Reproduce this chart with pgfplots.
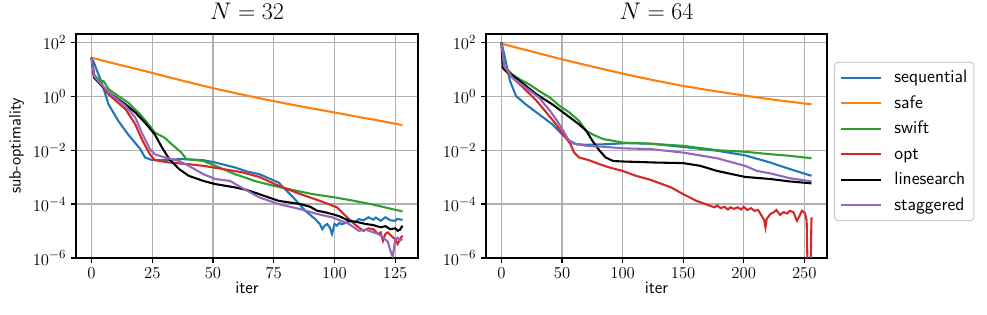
\documentclass[border=0pt]{standalone}
\usepackage{pgfplots}
\pgfplotsset{compat=1.18}
\definecolor{cblue}{HTML}{1F77B4}
\definecolor{corange}{HTML}{FF7F0E}
\definecolor{cgreen}{HTML}{2CA02C}
\definecolor{cred}{HTML}{D62728}
\definecolor{cpurple}{HTML}{9467BD}
\definecolor{cgrid}{HTML}{B0B0B0}
\definecolor{clegend}{HTML}{CCCCCC}
\begin{document}
\begin{tikzpicture}
\useasboundingbox (0pt,0pt) rectangle (710.64pt,226.8pt);
\begin{axis}[
  scale only axis, anchor=south west, at={(54.72pt,41.04pt)},
  width=246.24pt, height=161.28pt,
  ymode=log, ymin=1e-6, ymax=204,
  ytick={1e-6,1e-4,1e-2,1,1e2},
  grid=major,
  major grid style={cgrid, line width=0.9pt},
  axis line style={line width=0.9pt},
  major tick style={black, line width=0.9pt},
  major tick length=3.5pt,
  tick align=outside,
  xtick pos=bottom, ytick pos=left,
  tick label style={font=\fontsize{13}{15}\selectfont},
  xlabel style={font=\sffamily\fontsize{12.5}{14}\selectfont, at={(axis description cs:0.5,-0.1326)}, anchor=center},
  ylabel style={font=\sffamily\fontsize{12}{14}\selectfont, at={(axis description cs:-0.174,0.5)}, anchor=center},
  title style={font=\fontsize{16}{19}\selectfont, at={(axis description cs:0.5,1.0625)}, anchor=center},
  xmin=-6.4, xmax=134.4, xtick={0,25,50,75,100,125},
  title={$N=32$}, xlabel={iter}, ylabel={sub-optimality}]
% sequential
\addplot[cblue, line width=1.5pt] coordinates {(0,26.9)(1,17.8)(2,10)(4,3.55)(7,0.501)(11,0.123)(15,0.0389)(20,0.0112)(22,5.37e-3)(25,4.27e-3)(29,4.27e-3)(37,4.68e-3)(46,4.27e-3)(51,3.47e-3)(59,2.29e-3)(64,1.62e-3)(69,1.29e-3)(77,6.31e-4)(83,1.78e-4)(88,5.62e-5)(92,2.82e-5)(94,1.82e-5)(95,1.17e-5)(96,1.58e-5)(97,1.82e-5)(98,1.41e-5)(99,7.76e-6)(100,1.82e-5)(101,1.58e-5)(102,2.0e-5)(103,1.78e-5)(105,2.09e-5)(107,2.40e-5)(108,2.0e-5)(110,2.75e-5)(112,2.51e-5)(114,3.24e-5)(116,2.63e-5)(117,3.16e-5)(119,2.40e-5)(121,3.24e-5)(123,2.51e-5)(125,2.40e-5)(126,2.82e-5)(128,2.57e-5)};
% safe
\addplot[corange, line width=1.5pt] coordinates {(0,26.9)(10,15.8)(20,9.55)(30,5.62)(40,3.31)(50,2.0)(60,1.26)(70,0.813)(80,0.537)(90,0.363)(100,0.251)(110,0.170)(120,0.117)(128,0.0851)};
% swift
\addplot[cgreen, line width=1.5pt] coordinates {(0,26.9)(1,6.46)(2,5.01)(4,3.72)(5,3.6)(7,1.82)(11,1.02)(15,0.589)(20,0.214)(24,0.0794)(26,0.0447)(30,0.0295)(33,0.0166)(37,8.13e-3)(39,4.68e-3)(46,3.98e-3)(51,2.63e-3)(59,1.29e-3)(64,9.12e-4)(67,7.24e-4)(75,4.79e-4)(83,3.31e-4)(91,2.34e-4)(100,1.78e-4)(108,1.32e-4)(116,9.55e-5)(124,6.46e-5)(128,5.37e-5)};
% opt
\addplot[cred, line width=1.5pt] coordinates {(0,26.9)(1,5.62)(7,1.17)(14,0.331)(18,0.0912)(21,0.0224)(24,7.08e-3)(26,4.27e-3)(32,3.47e-3)(40,3.02e-3)(46,2.63e-3)(54,2.0e-3)(62,1.51e-3)(69,1.02e-3)(77,4.79e-4)(86,2.34e-4)(94,1.32e-4)(101,7.59e-5)(106,2.75e-5)(109,1.58e-5)(112,1.02e-5)(114,1.26e-5)(116,1.17e-5)(118,7.76e-6)(119,8.91e-6)(120,4.37e-6)(121,7.94e-6)(122,8.91e-6)(124,5.89e-6)(125,5.01e-6)(126,3.31e-6)(127,5.01e-6)(128,6.76e-6)};
% linesearch
\addplot[black, line width=1.5pt] coordinates {(0,26.9)(1,4.90)(7,1.38)(14,0.501)(18,0.251)(22,0.105)(26,0.0389)(29,0.0126)(32,4.68e-3)(36,2.0e-3)(40,1.12e-3)(46,7.24e-4)(51,5.50e-4)(59,4.17e-4)(64,3.31e-4)(69,2.34e-4)(77,1.32e-4)(86,1.0e-4)(90,7.94e-5)(93,5.62e-5)(96,5.01e-5)(99,4.27e-5)(102,3.55e-5)(106,2.40e-5)(109,2.19e-5)(113,1.82e-5)(116,1.66e-5)(119,1.38e-5)(121,1.51e-5)(123,1.17e-5)(125,1.26e-5)(126,1.02e-5)(127,1.12e-5)(128,1.58e-5)};
% staggered
\addplot[cpurple, line width=1.5pt] coordinates {(0,26.9)(1,5.62)(7,1.38)(14,0.437)(18,0.162)(21,0.0389)(24,0.0110)(26,7.08e-3)(30,5.37e-3)(36,3.98e-3)(40,2.63e-3)(46,1.29e-3)(51,8.51e-4)(57,7.24e-4)(62,3.98e-4)(69,1.78e-4)(77,1.0e-4)(86,6.46e-5)(93,4.27e-5)(99,3.24e-5)(106,1.82e-5)(110,1.02e-5)(113,1.12e-5)(116,8.91e-6)(118,7.94e-6)(120,5.89e-6)(122,3.98e-6)(123,1.91e-6)(124,1.10e-6)(125,4.68e-6)(126,5.62e-6)(127,4.47e-6)(128,5.01e-6)};
\end{axis}
\begin{axis}[
  scale only axis, anchor=south west, at={(349.92pt,41.04pt)},
  width=245.52pt, height=161.28pt,
  ymode=log, ymin=1e-6, ymax=204,
  ytick={1e-6,1e-4,1e-2,1,1e2},
  grid=major,
  major grid style={cgrid, line width=0.9pt},
  axis line style={line width=0.9pt},
  major tick style={black, line width=0.9pt},
  major tick length=3.5pt,
  tick align=outside,
  xtick pos=bottom, ytick pos=left,
  tick label style={font=\fontsize{13}{15}\selectfont},
  xlabel style={font=\sffamily\fontsize{12.5}{14}\selectfont, at={(axis description cs:0.5,-0.1326)}, anchor=center},
  title style={font=\fontsize{16}{19}\selectfont, at={(axis description cs:0.5,1.0625)}, anchor=center},
  xmin=-12.8, xmax=268.8, xtick={0,50,100,150,200,250},
  title={$N=64$}, xlabel={iter},
  legend cell align=left,
  legend style={at={(1.0205,0.876)}, anchor=north west, draw=clegend, line width=0.8pt,
    rounded corners=2.5pt, fill=white,
    font=\sffamily\fontsize{13}{15}\selectfont,
    row sep=4.4pt, inner xsep=3.8pt, inner ysep=4pt,
    nodes={text height=9.5pt, text depth=2.5pt, inner sep=1pt}},
  legend image code/.code={\draw[#1, line width=1.5pt, rounded corners=0pt] (0pt,0pt) -- (28.8pt,0pt); \path (36.8pt,0pt);}]
% sequential
\addplot[cblue, line width=1.5pt] coordinates {(0,97.7)(2,39.8)(4,15.5)(7,3.72)(12,1.02)(20,0.501)(31,0.214)(42,0.0912)(50,0.0389)(56,0.0224)(62,0.0166)(70,0.0158)(86,0.0166)(103,0.0182)(123,0.0174)(150,0.0132)(178,9.55e-3)(201,6.46e-3)(222,3.47e-3)(238,2.0e-3)(256,1.12e-3)};
\addlegendentry{sequential}
% safe
\addplot[corange, line width=1.5pt] coordinates {(0,89.1)(25,45.7)(50,23.4)(75,12.6)(100,6.92)(125,3.98)(150,2.40)(175,1.58)(200,1.07)(225,0.741)(256,0.501)};
\addlegendentry{safe}
% swift
\addplot[cgreen, line width=1.5pt] coordinates {(0,97.7)(2,13.2)(9,6.46)(15,4.27)(23,2.75)(31,1.58)(40,0.891)(48,0.437)(56,0.251)(64,0.123)(70,0.0525)(75,0.0389)(84,0.0257)(92,0.0224)(100,0.0191)(123,0.0174)(150,0.0145)(178,0.0100)(201,8.71e-3)(222,7.08e-3)(238,6.17e-3)(256,5.01e-3)};
\addlegendentry{swift}
% opt
\addplot[cred, line width=1.5pt] coordinates {(0,97.7)(2,10)(9,4.90)(18,2.09)(29,0.676)(37,0.251)(45,0.0912)(53,0.0295)(57,0.0166)(60,8.13e-3)(64,5.37e-3)(72,4.27e-3)(81,3.02e-3)(89,2.29e-3)(100,1.70e-3)(111,1.12e-3)(123,7.94e-4)(140,4.17e-4)(150,2.34e-4)(161,1.32e-4)(172,8.71e-5)(176,7.59e-5)(178,8.91e-5)(181,7.08e-5)(184,7.94e-5)(187,6.31e-5)(189,7.59e-5)(192,6.61e-5)(195,7.59e-5)(198,6.31e-5)(200,7.94e-5)(203,6.03e-5)(206,7.08e-5)(209,5.62e-5)(212,6.03e-5)(215,3.55e-5)(217,2.51e-5)(218,1.38e-5)(219,2.82e-5)(222,4.27e-5)(225,5.01e-5)(227,6.03e-5)(230,3.98e-5)(233,5.01e-5)(236,4.47e-5)(238,5.62e-5)(241,5.01e-5)(244,2.40e-5)(246,3.55e-5)(248,5.62e-5)(250,5.01e-5)(251,3.98e-5)(252,2.40e-5)(253,1e-7)(254,1e-7)(255,1e-7)(256,3.24e-5)};
\addlegendentry{opt}
% linesearch
\addplot[black, line width=1.5pt] coordinates {(0,97.7)(1,11.5)(4,8.71)(15,3.72)(29,1.17)(42,0.501)(53,0.214)(64,0.0912)(70,0.0525)(75,0.0224)(81,9.55e-3)(86,5.37e-3)(92,3.98e-3)(100,3.80e-3)(128,3.47e-3)(150,3.31e-3)(164,2.63e-3)(178,1.70e-3)(201,1.02e-3)(222,8.51e-4)(238,6.92e-4)(256,5.89e-4)};
\addlegendentry{linesearch}
% staggered
\addplot[cpurple, line width=1.5pt] coordinates {(0,97.7)(2,13.2)(9,4.90)(20,2.09)(31,0.891)(40,0.288)(45,0.141)(51,0.0525)(55,0.0257)(59,0.0178)(70,0.0145)(86,0.0132)(100,0.0117)(123,0.0110)(150,8.13e-3)(178,5.01e-3)(201,2.63e-3)(211,1.70e-3)(222,1.38e-3)(238,9.12e-4)(256,6.92e-4)};
\addlegendentry{staggered}
\end{axis}
\end{tikzpicture}
\end{document}
